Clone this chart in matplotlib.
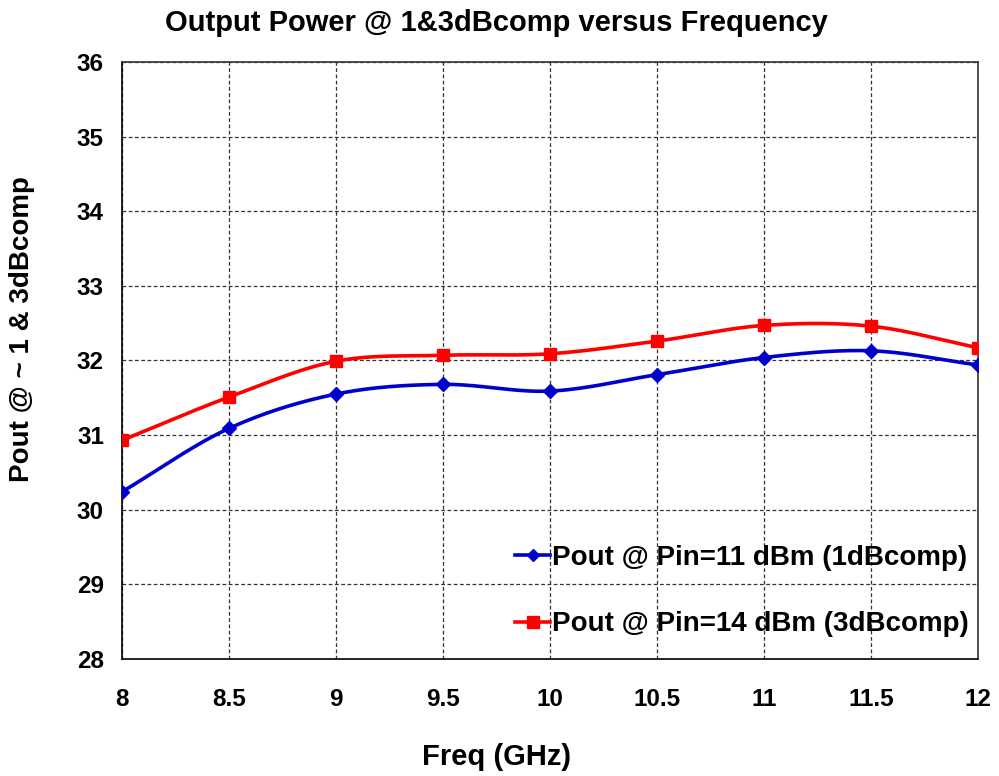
import numpy as np
import matplotlib
matplotlib.use("Agg")
import matplotlib.pyplot as plt

plt.rcParams['font.family'] = ['Liberation Sans', 'DejaVu Sans']
plt.rcParams['font.weight'] = 'bold'

freq = [8, 8.5, 9, 9.5, 10, 10.5, 11, 11.5, 12]
pout_1db = [30.24, 31.09, 31.55, 31.68, 31.59, 31.81, 32.04, 32.13, 31.94]
pout_3db = [30.93, 31.51, 31.99, 32.07, 32.09, 32.26, 32.47, 32.46, 32.17]
xticks = [8, 8.5, 9, 9.5, 10, 10.5, 11, 11.5, 12]
xticklabels = ['8', '8.5', '9', '9.5', '10', '10.5', '11', '11.5', '12']
yticks = [28, 29, 30, 31, 32, 33, 34, 35, 36]


def smooth(x, y, n=30):
    # catmull-rom style curve like excel's smoothed line
    x = np.asarray(x, float)
    y = np.asarray(y, float)
    px = np.concatenate([[2 * x[0] - x[1]], x, [2 * x[-1] - x[-2]]])
    py = np.concatenate([[2 * y[0] - y[1]], y, [2 * y[-1] - y[-2]]])
    xs, ys = [], []
    t = np.linspace(0, 1, n)
    for i in range(1, len(px) - 2):
        p0, p1, p2, p3 = (np.array([px[j], py[j]]) for j in range(i - 1, i + 3))
        c1 = p1 + (p2 - p0) / 6
        c2 = p2 - (p3 - p1) / 6
        b = ((1 - t) ** 3)[:, None] * p1 + (3 * (1 - t) ** 2 * t)[:, None] * c1 \
            + (3 * (1 - t) * t ** 2)[:, None] * c2 + (t ** 3)[:, None] * p2
        xs.extend(b[:, 0])
        ys.extend(b[:, 1])
    return xs, ys


fig = plt.figure(figsize=(9.99, 7.76), dpi=100)
ax = fig.add_axes([0.1221, 0.1508, 0.8569, 0.7693])

blue = '#0000CC'
red = '#FF0000'

sx, sy = smooth(freq, pout_1db)
ax.plot(sx, sy, color=blue, lw=2.6, zorder=3)
ax.plot(freq, pout_1db, ls='none', marker='D', ms=7, color=blue, zorder=4)
sx, sy = smooth(freq, pout_3db)
ax.plot(sx, sy, color=red, lw=2.6, zorder=3)
ax.plot(freq, pout_3db, ls='none', marker='s', ms=8, color=red, zorder=4)

# legend proxies
h1, = ax.plot([], [], color=blue, lw=2.6, marker='D', ms=6)
h2, = ax.plot([], [], color=red, lw=2.6, marker='s', ms=8)
ax.legend([h1, h2], ['Pout @ Pin=11 dBm (1dBcomp)', 'Pout @ Pin=14 dBm (3dBcomp)'],
          loc='lower right', bbox_to_anchor=(1.0, 0.02), frameon=False,
          prop={'size': 20, 'weight': 'bold'}, handlelength=1.25, handletextpad=0.05,
          labelspacing=1.45, borderaxespad=0.1, borderpad=0.25)

ax.set_xlim(8, 12)
ax.set_ylim(28, 36)
ax.set_xticks(xticks)
ax.set_xticklabels(xticklabels)
ax.set_yticks(yticks)
ax.tick_params(length=0, labelsize=17.5)
ax.tick_params(axis='x', pad=21)
ax.tick_params(axis='y', pad=13)
ax.grid(True, color='#333333', ls=(0, (3, 2)), lw=0.9)
for s in ['top', 'right']:
    ax.spines[s].set_color('#333333')
    ax.spines[s].set_linestyle((0, (3, 1)))
    ax.spines[s].set_linewidth(1.2)
for s in ['left', 'bottom']:
    ax.spines[s].set_color('black')
    ax.spines[s].set_linewidth(1.2)

fig.text(0.497, 0.970, 'Output Power @ 1&3dBcomp versus Frequency',
         ha='center', va='center', fontsize=21, fontweight='bold')
fig.text(0.497, 0.024, 'Freq (GHz)', ha='center', va='center',
         fontsize=21, fontweight='bold')
fig.text(0.022, 0.576, 'Pout @ ~ 1 & 3dBcomp', ha='center', va='center',
         rotation=90, fontsize=20, fontweight='bold')

fig.savefig('out.png', dpi=100)
